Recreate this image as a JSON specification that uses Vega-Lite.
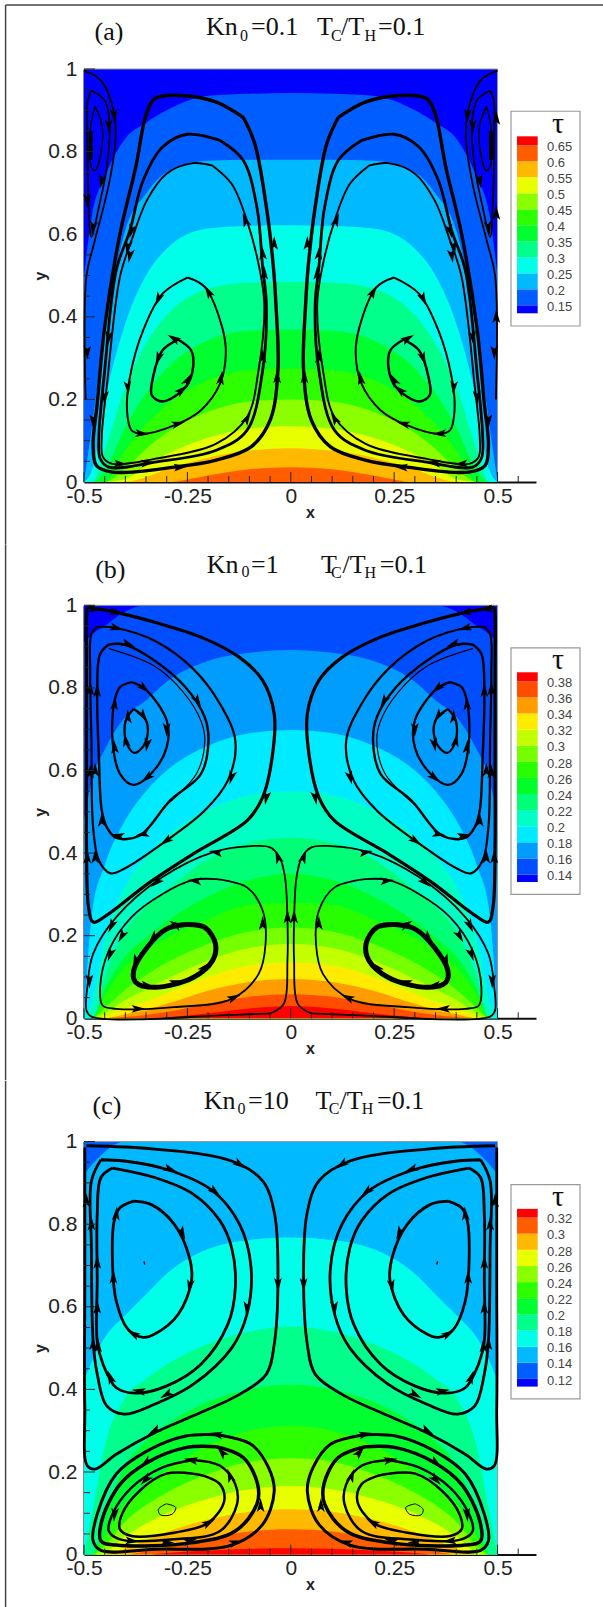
{"$schema":"https://vega.github.io/schema/vega-lite/v6.json","background":"white","padding":{"left":4,"top":4,"right":0,"bottom":0},"config":{"view":{"stroke":null},"axis":{"grid":false,"ticks":false,"labelFont":"Liberation Sans","labelFontSize":21,"labelColor":"#222","domainColor":"#111","domainWidth":2,"titleFont":"Liberation Sans","titleFontWeight":"bold","titleFontSize":16,"titleColor":"#222","labelOverlap":false,"labelFlush":false,"labelBound":false,"zindex":1,"labelExpr":"datum.value+''"}},"bounds":"flush","spacing":123.3,"resolve":{"scale":{"color":"independent","strokeWidth":"independent"}},
"datasets":{
"ticks":[{"x":-0.5,"y":0,"x2":-0.5,"y2":0.024},{"x":-0.45,"y":0,"x2":-0.45,"y2":0.0145},{"x":-0.4,"y":0,"x2":-0.4,"y2":0.0145},{"x":-0.35,"y":0,"x2":-0.35,"y2":0.0145},{"x":-0.3,"y":0,"x2":-0.3,"y2":0.0145},{"x":-0.25,"y":0,"x2":-0.25,"y2":0.024},{"x":-0.2,"y":0,"x2":-0.2,"y2":0.0145},{"x":-0.15,"y":0,"x2":-0.15,"y2":0.0145},{"x":-0.1,"y":0,"x2":-0.1,"y2":0.0145},{"x":-0.05,"y":0,"x2":-0.05,"y2":0.0145},{"x":0,"y":0,"x2":0,"y2":0.024},{"x":0.05,"y":0,"x2":0.05,"y2":0.0145},{"x":0.1,"y":0,"x2":0.1,"y2":0.0145},{"x":0.15,"y":0,"x2":0.15,"y2":0.0145},{"x":0.2,"y":0,"x2":0.2,"y2":0.0145},{"x":0.25,"y":0,"x2":0.25,"y2":0.024},{"x":0.3,"y":0,"x2":0.3,"y2":0.0145},{"x":0.35,"y":0,"x2":0.35,"y2":0.0145},{"x":0.4,"y":0,"x2":0.4,"y2":0.0145},{"x":0.45,"y":0,"x2":0.45,"y2":0.0145},{"x":0.5,"y":0,"x2":0.5,"y2":0.024},{"x":0.55,"y":0,"x2":0.55,"y2":0.0145},
{"x":-0.5,"y":0.05,"x2":-0.4855,"y2":0.05},{"x":-0.5,"y":0.1,"x2":-0.4855,"y2":0.1},{"x":-0.5,"y":0.15,"x2":-0.4855,"y2":0.15},{"x":-0.5,"y":0.2,"x2":-0.4734,"y2":0.2},{"x":-0.5,"y":0.25,"x2":-0.4855,"y2":0.25},{"x":-0.5,"y":0.3,"x2":-0.4855,"y2":0.3},{"x":-0.5,"y":0.35,"x2":-0.4855,"y2":0.35},{"x":-0.5,"y":0.4,"x2":-0.4734,"y2":0.4},{"x":-0.5,"y":0.45,"x2":-0.4855,"y2":0.45},{"x":-0.5,"y":0.5,"x2":-0.4855,"y2":0.5},{"x":-0.5,"y":0.55,"x2":-0.4855,"y2":0.55},{"x":-0.5,"y":0.6,"x2":-0.4734,"y2":0.6},{"x":-0.5,"y":0.65,"x2":-0.4855,"y2":0.65},{"x":-0.5,"y":0.7,"x2":-0.4855,"y2":0.7},{"x":-0.5,"y":0.75,"x2":-0.4855,"y2":0.75},{"x":-0.5,"y":0.8,"x2":-0.4734,"y2":0.8},{"x":-0.5,"y":0.85,"x2":-0.4855,"y2":0.85},{"x":-0.5,"y":0.9,"x2":-0.4855,"y2":0.9},{"x":-0.5,"y":0.95,"x2":-0.4855,"y2":0.95},{"x":-0.5,"y":1,"x2":-0.4734,"y2":1}],
"ca":[{"x":-0.5,"b0":1,"b1":0.5,"b2":0,"b3":0,"b4":0,"b5":0,"b6":0,"b7":0,"b8":0,"b9":0,"b10":0},{"x":-0.48,"b0":1,"b1":0.65,"b2":0.14,"b3":0.03,"b4":0,"b5":0,"b6":0,"b7":0,"b8":0,"b9":0,"b10":0},{"x":-0.45,"b0":1,"b1":0.738,"b2":0.36,"b3":0.194,"b4":0.077,"b5":0.026,"b6":0,"b7":0,"b8":0,"b9":0,"b10":0},{"x":-0.4,"b0":1,"b1":0.832,"b2":0.61,"b3":0.384,"b4":0.23,"b5":0.133,"b6":0.077,"b7":0.033,"b8":0.007,"b9":0,"b10":0},{"x":-0.35,"b0":1,"b1":0.87,"b2":0.698,"b3":0.5,"b4":0.335,"b5":0.215,"b6":0.139,"b7":0.08,"b8":0.04,"b9":0.012,"b10":0},{"x":-0.3,"b0":1,"b1":0.9,"b2":0.75,"b3":0.565,"b4":0.404,"b5":0.275,"b6":0.187,"b7":0.119,"b8":0.067,"b9":0.031,"b10":0},{"x":-0.2,"b0":1,"b1":0.935,"b2":0.778,"b3":0.614,"b4":0.468,"b5":0.343,"b6":0.247,"b7":0.17,"b8":0.107,"b9":0.059,"b10":0.016},{"x":-0.1,"b0":1,"b1":0.94,"b2":0.78,"b3":0.62,"b4":0.483,"b5":0.366,"b6":0.271,"b7":0.195,"b8":0.129,"b9":0.076,"b10":0.031},{"x":0,"b0":1,"b1":0.942,"b2":0.78,"b3":0.6215,"b4":0.484,"b5":0.369,"b6":0.275,"b7":0.2,"b8":0.135,"b9":0.082,"b10":0.036},{"x":0.1,"b0":1,"b1":0.94,"b2":0.78,"b3":0.62,"b4":0.483,"b5":0.366,"b6":0.271,"b7":0.195,"b8":0.129,"b9":0.076,"b10":0.031},{"x":0.2,"b0":1,"b1":0.935,"b2":0.778,"b3":0.614,"b4":0.468,"b5":0.343,"b6":0.247,"b7":0.17,"b8":0.107,"b9":0.059,"b10":0.016},{"x":0.3,"b0":1,"b1":0.9,"b2":0.75,"b3":0.565,"b4":0.404,"b5":0.275,"b6":0.187,"b7":0.119,"b8":0.067,"b9":0.031,"b10":0},{"x":0.35,"b0":1,"b1":0.87,"b2":0.698,"b3":0.5,"b4":0.335,"b5":0.215,"b6":0.139,"b7":0.08,"b8":0.04,"b9":0.012,"b10":0},{"x":0.4,"b0":1,"b1":0.832,"b2":0.61,"b3":0.384,"b4":0.23,"b5":0.133,"b6":0.077,"b7":0.033,"b8":0.007,"b9":0,"b10":0},{"x":0.45,"b0":1,"b1":0.738,"b2":0.36,"b3":0.194,"b4":0.077,"b5":0.026,"b6":0,"b7":0,"b8":0,"b9":0,"b10":0},{"x":0.48,"b0":1,"b1":0.65,"b2":0.14,"b3":0.03,"b4":0,"b5":0,"b6":0,"b7":0,"b8":0,"b9":0,"b10":0},{"x":0.5,"b0":1,"b1":0.5,"b2":0,"b3":0,"b4":0,"b5":0,"b6":0,"b7":0,"b8":0,"b9":0,"b10":0}],
"cb":[{"x":-0.5,"b0":1,"b1":0.91,"b2":0.48,"b3":0,"b4":0,"b5":0,"b6":0,"b7":0,"b8":0,"b9":0,"b10":0,"b11":0,"b12":0,"b13":0},{"x":-0.48,"b0":1,"b1":0.93,"b2":0.58,"b3":0.26,"b4":0.04,"b5":0,"b6":0,"b7":0,"b8":0,"b9":0,"b10":0,"b11":0,"b12":0,"b13":0},{"x":-0.45,"b0":1,"b1":0.95,"b2":0.65,"b3":0.37,"b4":0.19,"b5":0.1,"b6":0.07,"b7":0.055,"b8":0.025,"b9":0.012,"b10":0.004,"b11":0,"b12":0,"b13":0},{"x":-0.4,"b0":1,"b1":0.985,"b2":0.73,"b3":0.48,"b4":0.32,"b5":0.21,"b6":0.15,"b7":0.125,"b8":0.07,"b9":0.045,"b10":0.025,"b11":0.01,"b12":0.003,"b13":0},{"x":-0.35,"b0":1,"b1":1,"b2":0.77,"b3":0.55,"b4":0.39,"b5":0.27,"b6":0.195,"b7":0.165,"b8":0.105,"b9":0.07,"b10":0.04,"b11":0.02,"b12":0.008,"b13":0},{"x":-0.3,"b0":1,"b1":1,"b2":0.815,"b3":0.6,"b4":0.44,"b5":0.31,"b6":0.235,"b7":0.195,"b8":0.135,"b9":0.095,"b10":0.06,"b11":0.035,"b12":0.015,"b13":0.002},{"x":-0.2,"b0":1,"b1":1,"b2":0.865,"b3":0.66,"b4":0.505,"b5":0.385,"b6":0.295,"b7":0.24,"b8":0.18,"b9":0.14,"b10":0.1,"b11":0.067,"b12":0.035,"b13":0.012},{"x":-0.1,"b0":1,"b1":1,"b2":0.885,"b3":0.69,"b4":0.54,"b5":0.425,"b6":0.335,"b7":0.275,"b8":0.21,"b9":0.17,"b10":0.128,"b11":0.088,"b12":0.052,"b13":0.024},{"x":0,"b0":1,"b1":1,"b2":0.892,"b3":0.698,"b4":0.55,"b5":0.437,"b6":0.35,"b7":0.28,"b8":0.22,"b9":0.18,"b10":0.135,"b11":0.095,"b12":0.058,"b13":0.03},{"x":0.1,"b0":1,"b1":1,"b2":0.885,"b3":0.69,"b4":0.54,"b5":0.425,"b6":0.335,"b7":0.275,"b8":0.21,"b9":0.17,"b10":0.128,"b11":0.088,"b12":0.052,"b13":0.024},{"x":0.2,"b0":1,"b1":1,"b2":0.865,"b3":0.66,"b4":0.505,"b5":0.385,"b6":0.295,"b7":0.24,"b8":0.18,"b9":0.14,"b10":0.1,"b11":0.067,"b12":0.035,"b13":0.012},{"x":0.3,"b0":1,"b1":1,"b2":0.815,"b3":0.6,"b4":0.44,"b5":0.31,"b6":0.235,"b7":0.195,"b8":0.135,"b9":0.095,"b10":0.06,"b11":0.035,"b12":0.015,"b13":0.002},{"x":0.35,"b0":1,"b1":1,"b2":0.77,"b3":0.55,"b4":0.39,"b5":0.27,"b6":0.195,"b7":0.165,"b8":0.105,"b9":0.07,"b10":0.04,"b11":0.02,"b12":0.008,"b13":0},{"x":0.4,"b0":1,"b1":0.985,"b2":0.73,"b3":0.48,"b4":0.32,"b5":0.21,"b6":0.15,"b7":0.125,"b8":0.07,"b9":0.045,"b10":0.025,"b11":0.01,"b12":0.003,"b13":0},{"x":0.45,"b0":1,"b1":0.95,"b2":0.65,"b3":0.37,"b4":0.19,"b5":0.1,"b6":0.07,"b7":0.055,"b8":0.025,"b9":0.012,"b10":0.004,"b11":0,"b12":0,"b13":0},{"x":0.48,"b0":1,"b1":0.93,"b2":0.58,"b3":0.26,"b4":0.04,"b5":0,"b6":0,"b7":0,"b8":0,"b9":0,"b10":0,"b11":0,"b12":0,"b13":0},{"x":0.5,"b0":1,"b1":0.91,"b2":0.48,"b3":0,"b4":0,"b5":0,"b6":0,"b7":0,"b8":0,"b9":0,"b10":0,"b11":0,"b12":0,"b13":0}],
"cc":[{"x":-0.5,"b1":1,"b2":0.92,"b3":0.42,"b4":0,"b5":0,"b6":0,"b7":0,"b8":0,"b9":0,"b10":0,"b11":0},{"x":-0.48,"b1":1,"b2":0.945,"b3":0.47,"b4":0.1,"b5":0,"b6":0,"b7":0,"b8":0,"b9":0,"b10":0,"b11":0},{"x":-0.45,"b1":1,"b2":0.975,"b3":0.525,"b4":0.26,"b5":0.1,"b6":0.045,"b7":0.02,"b8":0.005,"b9":0,"b10":0,"b11":0},{"x":-0.4,"b1":1,"b2":1,"b3":0.58,"b4":0.38,"b5":0.215,"b6":0.125,"b7":0.08,"b8":0.045,"b9":0.015,"b10":0,"b11":0},{"x":-0.35,"b1":1,"b2":1,"b3":0.63,"b4":0.425,"b5":0.275,"b6":0.17,"b7":0.12,"b8":0.075,"b9":0.035,"b10":0.008,"b11":0},{"x":-0.3,"b1":1,"b2":1,"b3":0.68,"b4":0.46,"b5":0.315,"b6":0.205,"b7":0.15,"b8":0.1,"b9":0.055,"b10":0.018,"b11":0.004},{"x":-0.2,"b1":1,"b2":1,"b3":0.74,"b4":0.51,"b5":0.37,"b6":0.265,"b7":0.195,"b8":0.135,"b9":0.085,"b10":0.04,"b11":0.01},{"x":-0.1,"b1":1,"b2":1,"b3":0.762,"b4":0.54,"b5":0.4,"b6":0.3,"b7":0.225,"b8":0.158,"b9":0.104,"b10":0.056,"b11":0.014},{"x":0,"b1":1,"b2":1,"b3":0.768,"b4":0.552,"b5":0.412,"b6":0.312,"b7":0.233,"b8":0.166,"b9":0.11,"b10":0.0614,"b11":0.0154},{"x":0.1,"b1":1,"b2":1,"b3":0.762,"b4":0.54,"b5":0.4,"b6":0.3,"b7":0.225,"b8":0.158,"b9":0.104,"b10":0.056,"b11":0.014},{"x":0.2,"b1":1,"b2":1,"b3":0.74,"b4":0.51,"b5":0.37,"b6":0.265,"b7":0.195,"b8":0.135,"b9":0.085,"b10":0.04,"b11":0.01},{"x":0.3,"b1":1,"b2":1,"b3":0.68,"b4":0.46,"b5":0.315,"b6":0.205,"b7":0.15,"b8":0.1,"b9":0.055,"b10":0.018,"b11":0.004},{"x":0.35,"b1":1,"b2":1,"b3":0.63,"b4":0.425,"b5":0.275,"b6":0.17,"b7":0.12,"b8":0.075,"b9":0.035,"b10":0.008,"b11":0},{"x":0.4,"b1":1,"b2":1,"b3":0.58,"b4":0.38,"b5":0.215,"b6":0.125,"b7":0.08,"b8":0.045,"b9":0.015,"b10":0,"b11":0},{"x":0.45,"b1":1,"b2":0.975,"b3":0.525,"b4":0.26,"b5":0.1,"b6":0.045,"b7":0.02,"b8":0.005,"b9":0,"b10":0,"b11":0},{"x":0.48,"b1":1,"b2":0.945,"b3":0.47,"b4":0.1,"b5":0,"b6":0,"b7":0,"b8":0,"b9":0,"b10":0,"b11":0},{"x":0.5,"b1":1,"b2":0.92,"b3":0.42,"b4":0,"b5":0,"b6":0,"b7":0,"b8":0,"b9":0,"b10":0,"b11":0}],
"sa":[{"s":"a1","x":-0.115,"y":0.883},{"s":"a1","x":-0.18,"y":0.92},{"s":"a1","x":-0.264,"y":0.936},{"s":"a1","x":-0.329,"y":0.928},{"s":"a1","x":-0.349,"y":0.892},{"s":"a1","x":-0.375,"y":0.762},{"s":"a1","x":-0.413,"y":0.601},{"s":"a1","x":-0.45,"y":0.375},{"s":"a1","x":-0.468,"y":0.19},{"s":"a1","x":-0.478,"y":0.09},{"s":"a1","x":-0.47,"y":0.04},{"s":"a1","x":-0.431,"y":0.024},{"s":"a1","x":-0.282,"y":0.036},{"s":"a1","x":-0.18,"y":0.053},{"s":"a1","x":-0.096,"y":0.085},{"s":"a1","x":-0.05,"y":0.149},{"s":"a1","x":-0.031,"y":0.27},{"s":"a1","x":-0.036,"y":0.432},{"s":"a1","x":-0.042,"y":0.52},{"s":"a1","x":-0.059,"y":0.666},{"s":"a1","x":-0.087,"y":0.819},{"s":"a1","x":-0.115,"y":0.883},
{"s":"A1","x":0.115,"y":0.883},{"s":"A1","x":0.18,"y":0.92},{"s":"A1","x":0.264,"y":0.936},{"s":"A1","x":0.329,"y":0.928},{"s":"A1","x":0.349,"y":0.892},{"s":"A1","x":0.375,"y":0.762},{"s":"A1","x":0.413,"y":0.601},{"s":"A1","x":0.45,"y":0.375},{"s":"A1","x":0.468,"y":0.19},{"s":"A1","x":0.478,"y":0.09},{"s":"A1","x":0.47,"y":0.04},{"s":"A1","x":0.431,"y":0.024},{"s":"A1","x":0.282,"y":0.036},{"s":"A1","x":0.18,"y":0.053},{"s":"A1","x":0.096,"y":0.085},{"s":"A1","x":0.05,"y":0.149},{"s":"A1","x":0.031,"y":0.27},{"s":"A1","x":0.036,"y":0.432},{"s":"A1","x":0.042,"y":0.52},{"s":"A1","x":0.059,"y":0.666},{"s":"A1","x":0.087,"y":0.819},{"s":"A1","x":0.115,"y":0.883},
{"s":"a2","x":-0.171,"y":0.827},{"s":"a2","x":-0.25,"y":0.842},{"s":"a2","x":-0.31,"y":0.811},{"s":"a2","x":-0.357,"y":0.73},{"s":"a2","x":-0.389,"y":0.609},{"s":"a2","x":-0.422,"y":0.513},{"s":"a2","x":-0.45,"y":0.27},{"s":"a2","x":-0.464,"y":0.109},{"s":"a2","x":-0.461,"y":0.057},{"s":"a2","x":-0.44,"y":0.036},{"s":"a2","x":-0.329,"y":0.048},{"s":"a2","x":-0.18,"y":0.077},{"s":"a2","x":-0.106,"y":0.125},{"s":"a2","x":-0.068,"y":0.27},{"s":"a2","x":-0.059,"y":0.432},{"s":"a2","x":-0.068,"y":0.52},{"s":"a2","x":-0.082,"y":0.666},{"s":"a2","x":-0.115,"y":0.779},{"s":"a2","x":-0.171,"y":0.827},
{"s":"A2","x":0.171,"y":0.827},{"s":"A2","x":0.25,"y":0.842},{"s":"A2","x":0.31,"y":0.811},{"s":"A2","x":0.357,"y":0.73},{"s":"A2","x":0.389,"y":0.609},{"s":"A2","x":0.422,"y":0.513},{"s":"A2","x":0.45,"y":0.27},{"s":"A2","x":0.464,"y":0.109},{"s":"A2","x":0.461,"y":0.057},{"s":"A2","x":0.44,"y":0.036},{"s":"A2","x":0.329,"y":0.048},{"s":"A2","x":0.18,"y":0.077},{"s":"A2","x":0.106,"y":0.125},{"s":"A2","x":0.068,"y":0.27},{"s":"A2","x":0.059,"y":0.432},{"s":"A2","x":0.068,"y":0.52},{"s":"A2","x":0.082,"y":0.666},{"s":"A2","x":0.115,"y":0.779},{"s":"A2","x":0.171,"y":0.827},
{"s":"a3","x":-0.189,"y":0.766},{"s":"a3","x":-0.236,"y":0.772},{"s":"a3","x":-0.301,"y":0.746},{"s":"a3","x":-0.348,"y":0.682},{"s":"a3","x":-0.385,"y":0.585},{"s":"a3","x":-0.413,"y":0.497},{"s":"a3","x":-0.445,"y":0.23},{"s":"a3","x":-0.457,"y":0.109},{"s":"a3","x":-0.454,"y":0.06},{"s":"a3","x":-0.431,"y":0.044},{"s":"a3","x":-0.329,"y":0.056},{"s":"a3","x":-0.18,"y":0.093},{"s":"a3","x":-0.106,"y":0.157},{"s":"a3","x":-0.078,"y":0.27},{"s":"a3","x":-0.064,"y":0.432},{"s":"a3","x":-0.078,"y":0.528},{"s":"a3","x":-0.106,"y":0.633},{"s":"a3","x":-0.143,"y":0.722},{"s":"a3","x":-0.189,"y":0.766},
{"s":"A3","x":0.189,"y":0.766},{"s":"A3","x":0.236,"y":0.772},{"s":"A3","x":0.301,"y":0.746},{"s":"A3","x":0.348,"y":0.682},{"s":"A3","x":0.385,"y":0.585},{"s":"A3","x":0.413,"y":0.497},{"s":"A3","x":0.445,"y":0.23},{"s":"A3","x":0.457,"y":0.109},{"s":"A3","x":0.454,"y":0.06},{"s":"A3","x":0.431,"y":0.044},{"s":"A3","x":0.329,"y":0.056},{"s":"A3","x":0.18,"y":0.093},{"s":"A3","x":0.106,"y":0.157},{"s":"A3","x":0.078,"y":0.27},{"s":"A3","x":0.064,"y":0.432},{"s":"A3","x":0.078,"y":0.528},{"s":"A3","x":0.106,"y":0.633},{"s":"A3","x":0.143,"y":0.722},{"s":"A3","x":0.189,"y":0.766},
{"s":"a4","x":-0.25,"y":0.495},{"s":"a4","x":-0.208,"y":0.472},{"s":"a4","x":-0.166,"y":0.375},{"s":"a4","x":-0.157,"y":0.311},{"s":"a4","x":-0.171,"y":0.238},{"s":"a4","x":-0.217,"y":0.174},{"s":"a4","x":-0.282,"y":0.137},{"s":"a4","x":-0.357,"y":0.117},{"s":"a4","x":-0.385,"y":0.125},{"s":"a4","x":-0.396,"y":0.174},{"s":"a4","x":-0.389,"y":0.254},{"s":"a4","x":-0.357,"y":0.367},{"s":"a4","x":-0.31,"y":0.456},{"s":"a4","x":-0.25,"y":0.495},
{"s":"A4","x":0.25,"y":0.495},{"s":"A4","x":0.208,"y":0.472},{"s":"A4","x":0.166,"y":0.375},{"s":"A4","x":0.157,"y":0.311},{"s":"A4","x":0.171,"y":0.238},{"s":"A4","x":0.217,"y":0.174},{"s":"A4","x":0.282,"y":0.137},{"s":"A4","x":0.357,"y":0.117},{"s":"A4","x":0.385,"y":0.125},{"s":"A4","x":0.396,"y":0.174},{"s":"A4","x":0.389,"y":0.254},{"s":"A4","x":0.357,"y":0.367},{"s":"A4","x":0.31,"y":0.456},{"s":"A4","x":0.25,"y":0.495},
{"s":"a5","x":-0.273,"y":0.345},{"s":"a5","x":-0.241,"y":0.319},{"s":"a5","x":-0.236,"y":0.279},{"s":"a5","x":-0.254,"y":0.23},{"s":"a5","x":-0.31,"y":0.195},{"s":"a5","x":-0.336,"y":0.21},{"s":"a5","x":-0.333,"y":0.254},{"s":"a5","x":-0.31,"y":0.319},{"s":"a5","x":-0.273,"y":0.345},
{"s":"A5","x":0.273,"y":0.345},{"s":"A5","x":0.241,"y":0.319},{"s":"A5","x":0.236,"y":0.279},{"s":"A5","x":0.254,"y":0.23},{"s":"A5","x":0.31,"y":0.195},{"s":"A5","x":0.336,"y":0.21},{"s":"A5","x":0.333,"y":0.254},{"s":"A5","x":0.31,"y":0.319},{"s":"A5","x":0.273,"y":0.345},
{"s":"a6","x":-0.5,"y":0.996},{"s":"a6","x":-0.459,"y":0.972},{"s":"a6","x":-0.427,"y":0.892},{"s":"a6","x":-0.424,"y":0.827},{"s":"a6","x":-0.44,"y":0.72},{"s":"a6","x":-0.475,"y":0.58},{"s":"a6","x":-0.494,"y":0.5},{"s":"a6","x":-0.496,"y":0.2},
{"s":"A6","x":0.5,"y":0.996},{"s":"A6","x":0.459,"y":0.972},{"s":"A6","x":0.427,"y":0.892},{"s":"A6","x":0.424,"y":0.827},{"s":"A6","x":0.44,"y":0.72},{"s":"A6","x":0.475,"y":0.58},{"s":"A6","x":0.494,"y":0.5},{"s":"A6","x":0.496,"y":0.2},
{"s":"a7","x":-0.482,"y":0.948},{"s":"a7","x":-0.45,"y":0.924},{"s":"a7","x":-0.438,"y":0.867},{"s":"a7","x":-0.445,"y":0.762},{"s":"a7","x":-0.464,"y":0.666},{"s":"a7","x":-0.482,"y":0.593},{"s":"a7","x":-0.489,"y":0.682},{"s":"a7","x":-0.492,"y":0.843},{"s":"a7","x":-0.491,"y":0.924},{"s":"a7","x":-0.482,"y":0.948},
{"s":"A7","x":0.482,"y":0.948},{"s":"A7","x":0.45,"y":0.924},{"s":"A7","x":0.438,"y":0.867},{"s":"A7","x":0.445,"y":0.762},{"s":"A7","x":0.464,"y":0.666},{"s":"A7","x":0.482,"y":0.593},{"s":"A7","x":0.489,"y":0.682},{"s":"A7","x":0.492,"y":0.843},{"s":"A7","x":0.491,"y":0.924},{"s":"A7","x":0.482,"y":0.948},
{"s":"a8","x":-0.473,"y":0.909},{"s":"a8","x":-0.457,"y":0.867},{"s":"a8","x":-0.457,"y":0.811},{"s":"a8","x":-0.473,"y":0.754},{"s":"a8","x":-0.482,"y":0.762},{"s":"a8","x":-0.484,"y":0.859},{"s":"a8","x":-0.473,"y":0.909},
{"s":"A8","x":0.473,"y":0.909},{"s":"A8","x":0.457,"y":0.867},{"s":"A8","x":0.457,"y":0.811},{"s":"A8","x":0.473,"y":0.754},{"s":"A8","x":0.482,"y":0.762},{"s":"A8","x":0.484,"y":0.859},{"s":"A8","x":0.473,"y":0.909},
{"s":"a9","x":-0.484,"y":0.85},{"s":"a9","x":-0.484,"y":0.78},{"s":"A9","x":0.484,"y":0.85},{"s":"A9","x":0.484,"y":0.78}],
"ra":[{"x":-0.385,"y":0.609,"a":195},{"x":-0.478,"y":0.149,"a":180},{"x":-0.268,"y":0.036,"a":85},{"x":-0.04,"y":0.577,"a":0},{"x":-0.033,"y":0.254,"a":0},{"x":-0.394,"y":0.569,"a":190},{"x":-0.44,"y":0.351,"a":185},{"x":-0.45,"y":0.206,"a":183},{"x":-0.347,"y":0.046,"a":85},{"x":-0.068,"y":0.553,"a":355},{"x":-0.064,"y":0.505,"a":0},{"x":-0.068,"y":0.303,"a":0},{"x":-0.389,"y":0.549,"a":190},{"x":-0.413,"y":0.044,"a":95},{"x":-0.106,"y":0.153,"a":30},{"x":-0.11,"y":0.633,"a":340},{"x":-0.199,"y":0.46,"a":330},{"x":-0.32,"y":0.444,"a":205},{"x":-0.394,"y":0.23,"a":175},{"x":-0.361,"y":0.117,"a":95},{"x":-0.273,"y":0.141,"a":75},{"x":-0.169,"y":0.25,"a":10},{"x":-0.282,"y":0.347,"a":300},{"x":-0.32,"y":0.3,"a":200},{"x":-0.264,"y":0.222,"a":50},{"x":-0.25,"y":0.246,"a":30},{"x":-0.427,"y":0.888,"a":175},{"x":-0.44,"y":0.863,"a":180},{"x":-0.457,"y":0.73,"a":190},{"x":-0.478,"y":0.617,"a":190},{"x":-0.492,"y":0.682,"a":180},{"x":-0.492,"y":0.315,"a":180},
{"x":0.385,"y":0.609,"a":165},{"x":0.478,"y":0.149,"a":180},{"x":0.268,"y":0.036,"a":275},{"x":0.04,"y":0.577,"a":0},{"x":0.033,"y":0.254,"a":0},{"x":0.394,"y":0.569,"a":170},{"x":0.44,"y":0.351,"a":175},{"x":0.45,"y":0.206,"a":177},{"x":0.347,"y":0.046,"a":275},{"x":0.068,"y":0.553,"a":5},{"x":0.064,"y":0.505,"a":0},{"x":0.068,"y":0.303,"a":0},{"x":0.389,"y":0.549,"a":170},{"x":0.413,"y":0.044,"a":265},{"x":0.106,"y":0.153,"a":330},{"x":0.11,"y":0.633,"a":20},{"x":0.199,"y":0.46,"a":30},{"x":0.32,"y":0.444,"a":155},{"x":0.394,"y":0.23,"a":185},{"x":0.361,"y":0.117,"a":265},{"x":0.273,"y":0.141,"a":285},{"x":0.169,"y":0.25,"a":350},{"x":0.282,"y":0.347,"a":60},{"x":0.32,"y":0.3,"a":160},{"x":0.264,"y":0.222,"a":310},{"x":0.25,"y":0.246,"a":330},{"x":0.427,"y":0.888,"a":185},{"x":0.44,"y":0.863,"a":180},{"x":0.457,"y":0.73,"a":170},{"x":0.478,"y":0.617,"a":170},{"x":0.497,"y":0.88,"a":0},{"x":0.497,"y":0.65,"a":0},{"x":0.497,"y":0.4,"a":0},{"x":0.492,"y":0.315,"a":180}],
"sb":[{"s":"b1","x":-0.492,"y":0.995},{"s":"b1","x":-0.422,"y":0.983},{"s":"b1","x":-0.329,"y":0.959},{"s":"b1","x":-0.217,"y":0.923},{"s":"b1","x":-0.124,"y":0.874},{"s":"b1","x":-0.068,"y":0.818},{"s":"b1","x":-0.04,"y":0.737},{"s":"b1","x":-0.045,"y":0.632},{"s":"b1","x":-0.068,"y":0.535},{"s":"b1","x":-0.105,"y":0.479},{"s":"b1","x":-0.236,"y":0.398},{"s":"b1","x":-0.347,"y":0.325},{"s":"b1","x":-0.44,"y":0.253},{"s":"b1","x":-0.478,"y":0.233},{"s":"b1","x":-0.489,"y":0.269},{"s":"b1","x":-0.494,"y":0.422},{"s":"b1","x":-0.494,"y":0.592},{"s":"b1","x":-0.494,"y":0.834},{"s":"b1","x":-0.494,"y":0.971},{"s":"b1","x":-0.492,"y":0.995},
{"s":"B1","x":0.492,"y":0.995},{"s":"B1","x":0.422,"y":0.983},{"s":"B1","x":0.329,"y":0.959},{"s":"B1","x":0.217,"y":0.923},{"s":"B1","x":0.124,"y":0.874},{"s":"B1","x":0.068,"y":0.818},{"s":"B1","x":0.04,"y":0.737},{"s":"B1","x":0.045,"y":0.632},{"s":"B1","x":0.068,"y":0.535},{"s":"B1","x":0.105,"y":0.479},{"s":"B1","x":0.236,"y":0.398},{"s":"B1","x":0.347,"y":0.325},{"s":"B1","x":0.44,"y":0.253},{"s":"B1","x":0.478,"y":0.233},{"s":"B1","x":0.489,"y":0.269},{"s":"B1","x":0.494,"y":0.422},{"s":"B1","x":0.494,"y":0.592},{"s":"B1","x":0.494,"y":0.834},{"s":"B1","x":0.494,"y":0.971},{"s":"B1","x":0.492,"y":0.995},
{"s":"b2","x":-0.468,"y":0.948},{"s":"b2","x":-0.422,"y":0.945},{"s":"b2","x":-0.329,"y":0.914},{"s":"b2","x":-0.236,"y":0.846},{"s":"b2","x":-0.171,"y":0.761},{"s":"b2","x":-0.134,"y":0.672},{"s":"b2","x":-0.152,"y":0.576},{"s":"b2","x":-0.208,"y":0.503},{"s":"b2","x":-0.301,"y":0.43},{"s":"b2","x":-0.403,"y":0.362},{"s":"b2","x":-0.436,"y":0.351},{"s":"b2","x":-0.464,"y":0.382},{"s":"b2","x":-0.478,"y":0.463},{"s":"b2","x":-0.482,"y":0.672},{"s":"b2","x":-0.485,"y":0.834},{"s":"b2","x":-0.482,"y":0.931},{"s":"b2","x":-0.468,"y":0.948},
{"s":"B2","x":0.468,"y":0.948},{"s":"B2","x":0.422,"y":0.945},{"s":"B2","x":0.329,"y":0.914},{"s":"B2","x":0.236,"y":0.846},{"s":"B2","x":0.171,"y":0.761},{"s":"B2","x":0.134,"y":0.672},{"s":"B2","x":0.152,"y":0.576},{"s":"B2","x":0.208,"y":0.503},{"s":"B2","x":0.301,"y":0.43},{"s":"B2","x":0.403,"y":0.362},{"s":"B2","x":0.436,"y":0.351},{"s":"B2","x":0.464,"y":0.382},{"s":"B2","x":0.478,"y":0.463},{"s":"B2","x":0.482,"y":0.672},{"s":"B2","x":0.485,"y":0.834},{"s":"B2","x":0.482,"y":0.931},{"s":"B2","x":0.468,"y":0.948},
{"s":"b3","x":-0.44,"y":0.905},{"s":"b3","x":-0.403,"y":0.905},{"s":"b3","x":-0.329,"y":0.866},{"s":"b3","x":-0.254,"y":0.801},{"s":"b3","x":-0.208,"y":0.729},{"s":"b3","x":-0.199,"y":0.672},{"s":"b3","x":-0.217,"y":0.592},{"s":"b3","x":-0.292,"y":0.527},{"s":"b3","x":-0.366,"y":0.442},{"s":"b3","x":-0.422,"y":0.437},{"s":"b3","x":-0.445,"y":0.463},{"s":"b3","x":-0.457,"y":0.503},{"s":"b3","x":-0.464,"y":0.632},{"s":"b3","x":-0.468,"y":0.793},{"s":"b3","x":-0.461,"y":0.882},{"s":"b3","x":-0.44,"y":0.905},
{"s":"B3","x":0.44,"y":0.905},{"s":"B3","x":0.403,"y":0.905},{"s":"B3","x":0.329,"y":0.866},{"s":"B3","x":0.254,"y":0.801},{"s":"B3","x":0.208,"y":0.729},{"s":"B3","x":0.199,"y":0.672},{"s":"B3","x":0.217,"y":0.592},{"s":"B3","x":0.292,"y":0.527},{"s":"B3","x":0.366,"y":0.442},{"s":"B3","x":0.422,"y":0.437},{"s":"B3","x":0.445,"y":0.463},{"s":"B3","x":0.457,"y":0.503},{"s":"B3","x":0.464,"y":0.632},{"s":"B3","x":0.468,"y":0.793},{"s":"B3","x":0.461,"y":0.882},{"s":"B3","x":0.44,"y":0.905},
{"s":"b4","x":-0.385,"y":0.814},{"s":"b4","x":-0.352,"y":0.797},{"s":"b4","x":-0.3,"y":0.721},{"s":"b4","x":-0.3,"y":0.656},{"s":"b4","x":-0.338,"y":0.592},{"s":"b4","x":-0.38,"y":0.565},{"s":"b4","x":-0.413,"y":0.592},{"s":"b4","x":-0.431,"y":0.672},{"s":"b4","x":-0.426,"y":0.769},{"s":"b4","x":-0.413,"y":0.802},{"s":"b4","x":-0.385,"y":0.814},
{"s":"B4","x":0.385,"y":0.814},{"s":"B4","x":0.352,"y":0.797},{"s":"B4","x":0.3,"y":0.721},{"s":"B4","x":0.3,"y":0.656},{"s":"B4","x":0.338,"y":0.592},{"s":"B4","x":0.38,"y":0.565},{"s":"B4","x":0.413,"y":0.592},{"s":"B4","x":0.431,"y":0.672},{"s":"B4","x":0.426,"y":0.769},{"s":"B4","x":0.413,"y":0.802},{"s":"B4","x":0.385,"y":0.814},
{"s":"b5","x":-0.38,"y":0.749},{"s":"b5","x":-0.352,"y":0.725},{"s":"b5","x":-0.346,"y":0.688},{"s":"b5","x":-0.362,"y":0.652},{"s":"b5","x":-0.38,"y":0.643},{"s":"b5","x":-0.399,"y":0.672},{"s":"b5","x":-0.399,"y":0.721},{"s":"b5","x":-0.38,"y":0.749},
{"s":"B5","x":0.38,"y":0.749},{"s":"B5","x":0.352,"y":0.725},{"s":"B5","x":0.346,"y":0.688},{"s":"B5","x":0.362,"y":0.652},{"s":"B5","x":0.38,"y":0.643},{"s":"B5","x":0.399,"y":0.672},{"s":"B5","x":0.399,"y":0.721},{"s":"B5","x":0.38,"y":0.749},
{"s":"b6","x":-0.05,"y":0.012},{"s":"b6","x":-0.017,"y":0.035},{"s":"b6","x":-0.008,"y":0.14},{"s":"b6","x":-0.008,"y":0.237},{"s":"b6","x":-0.014,"y":0.342},{"s":"b6","x":-0.027,"y":0.39},{"s":"b6","x":-0.05,"y":0.414},{"s":"b6","x":-0.096,"y":0.417},{"s":"b6","x":-0.189,"y":0.402},{"s":"b6","x":-0.31,"y":0.342},{"s":"b6","x":-0.422,"y":0.245},{"s":"b6","x":-0.478,"y":0.156},{"s":"b6","x":-0.492,"y":0.075},{"s":"b6","x":-0.494,"y":0.019},{"s":"b6","x":-0.482,"y":0.004},{"s":"b6","x":-0.124,"y":0.009},{"s":"b6","x":-0.05,"y":0.012},
{"s":"B6","x":0.05,"y":0.012},{"s":"B6","x":0.017,"y":0.035},{"s":"B6","x":0.008,"y":0.14},{"s":"B6","x":0.008,"y":0.237},{"s":"B6","x":0.014,"y":0.342},{"s":"B6","x":0.027,"y":0.39},{"s":"B6","x":0.05,"y":0.414},{"s":"B6","x":0.096,"y":0.417},{"s":"B6","x":0.189,"y":0.402},{"s":"B6","x":0.31,"y":0.342},{"s":"B6","x":0.422,"y":0.245},{"s":"B6","x":0.478,"y":0.156},{"s":"B6","x":0.492,"y":0.075},{"s":"B6","x":0.494,"y":0.019},{"s":"B6","x":0.482,"y":0.004},{"s":"B6","x":0.124,"y":0.009},{"s":"B6","x":0.05,"y":0.012},
{"s":"b7","x":-0.18,"y":0.337},{"s":"b7","x":-0.236,"y":0.335},{"s":"b7","x":-0.31,"y":0.301},{"s":"b7","x":-0.385,"y":0.245},{"s":"b7","x":-0.44,"y":0.164},{"s":"b7","x":-0.461,"y":0.075},{"s":"b7","x":-0.455,"y":0.031},{"s":"b7","x":-0.422,"y":0.023},{"s":"b7","x":-0.282,"y":0.027},{"s":"b7","x":-0.143,"y":0.047},{"s":"b7","x":-0.078,"y":0.107},{"s":"b7","x":-0.061,"y":0.18},{"s":"b7","x":-0.068,"y":0.261},{"s":"b7","x":-0.106,"y":0.317},{"s":"b7","x":-0.18,"y":0.337},
{"s":"B7","x":0.18,"y":0.337},{"s":"B7","x":0.236,"y":0.335},{"s":"B7","x":0.31,"y":0.301},{"s":"B7","x":0.385,"y":0.245},{"s":"B7","x":0.44,"y":0.164},{"s":"B7","x":0.461,"y":0.075},{"s":"B7","x":0.455,"y":0.031},{"s":"B7","x":0.422,"y":0.023},{"s":"B7","x":0.282,"y":0.027},{"s":"B7","x":0.143,"y":0.047},{"s":"B7","x":0.078,"y":0.107},{"s":"B7","x":0.061,"y":0.18},{"s":"B7","x":0.068,"y":0.261},{"s":"B7","x":0.106,"y":0.317},{"s":"B7","x":0.18,"y":0.337},
{"s":"b8","x":-0.254,"y":0.227},{"s":"b8","x":-0.208,"y":0.22},{"s":"b8","x":-0.182,"y":0.18},{"s":"b8","x":-0.189,"y":0.14},{"s":"b8","x":-0.236,"y":0.099},{"s":"b8","x":-0.329,"y":0.075},{"s":"b8","x":-0.375,"y":0.087},{"s":"b8","x":-0.38,"y":0.115},{"s":"b8","x":-0.347,"y":0.172},{"s":"b8","x":-0.301,"y":0.216},{"s":"b8","x":-0.254,"y":0.227},
{"s":"B8","x":0.254,"y":0.227},{"s":"B8","x":0.208,"y":0.22},{"s":"B8","x":0.182,"y":0.18},{"s":"B8","x":0.189,"y":0.14},{"s":"B8","x":0.236,"y":0.099},{"s":"B8","x":0.329,"y":0.075},{"s":"B8","x":0.375,"y":0.087},{"s":"B8","x":0.38,"y":0.115},{"s":"B8","x":0.347,"y":0.172},{"s":"B8","x":0.301,"y":0.216},{"s":"B8","x":0.254,"y":0.227},
{"s":"b9","x":-0.44,"y":0.895},{"s":"b9","x":-0.33,"y":0.853},{"s":"b9","x":-0.26,"y":0.79},{"s":"b9","x":-0.217,"y":0.72},{"s":"b9","x":-0.208,"y":0.672},{"s":"b9","x":-0.228,"y":0.592},{"s":"b9","x":-0.3,"y":0.517},
{"s":"B9","x":0.44,"y":0.895},{"s":"B9","x":0.33,"y":0.853},{"s":"B9","x":0.26,"y":0.79},{"s":"B9","x":0.217,"y":0.72},{"s":"B9","x":0.208,"y":0.672},{"s":"B9","x":0.228,"y":0.592},{"s":"B9","x":0.3,"y":0.517}],
"rb":[{"x":-0.422,"y":0.983,"a":100},{"x":-0.059,"y":0.535,"a":190},{"x":-0.473,"y":0.991,"a":95},{"x":-0.422,"y":0.945,"a":105},{"x":-0.143,"y":0.584,"a":195},{"x":-0.301,"y":0.43,"a":235},{"x":-0.473,"y":0.39,"a":0},{"x":-0.473,"y":0.6,"a":0},{"x":-0.394,"y":0.906,"a":110},{"x":-0.226,"y":0.769,"a":150},{"x":-0.357,"y":0.446,"a":260},{"x":-0.417,"y":0.442,"a":280},{"x":-0.457,"y":0.479,"a":0},{"x":-0.468,"y":0.793,"a":0},{"x":-0.355,"y":0.8,"a":130},{"x":-0.3,"y":0.7,"a":180},{"x":-0.347,"y":0.583,"a":230},{"x":-0.426,"y":0.656,"a":355},{"x":-0.426,"y":0.761,"a":5},{"x":-0.357,"y":0.733,"a":145},{"x":-0.347,"y":0.664,"a":190},{"x":-0.394,"y":0.729,"a":0},{"x":-0.399,"y":0.672,"a":350},{"x":-0.485,"y":0.797,"a":0},{"x":-0.485,"y":0.596,"a":0},{"x":-0.492,"y":0.39,"a":0},{"x":-0.008,"y":0.245,"a":0},{"x":-0.031,"y":0.39,"a":340},{"x":-0.18,"y":0.402,"a":280},{"x":-0.324,"y":0.33,"a":230},{"x":-0.433,"y":0.225,"a":205},{"x":-0.487,"y":0.091,"a":180},{"x":-0.068,"y":0.229,"a":0},{"x":-0.231,"y":0.333,"a":275},{"x":-0.408,"y":0.2,"a":210},{"x":-0.436,"y":0.156,"a":200},{"x":-0.37,"y":0.023,"a":90},{"x":-0.138,"y":0.05,"a":65},{"x":-0.278,"y":0.227,"a":300},{"x":-0.332,"y":0.196,"a":220},{"x":-0.375,"y":0.14,"a":200},{"x":-0.347,"y":0.079,"a":100},{"x":-0.278,"y":0.087,"a":75},{"x":-0.208,"y":0.123,"a":45},
{"x":0.422,"y":0.983,"a":260},{"x":0.059,"y":0.535,"a":170},{"x":0.473,"y":0.991,"a":265},{"x":0.422,"y":0.945,"a":255},{"x":0.143,"y":0.584,"a":165},{"x":0.301,"y":0.43,"a":125},{"x":0.473,"y":0.39,"a":0},{"x":0.473,"y":0.6,"a":0},{"x":0.394,"y":0.906,"a":250},{"x":0.226,"y":0.769,"a":210},{"x":0.357,"y":0.446,"a":100},{"x":0.417,"y":0.442,"a":80},{"x":0.457,"y":0.479,"a":0},{"x":0.468,"y":0.793,"a":0},{"x":0.355,"y":0.8,"a":230},{"x":0.3,"y":0.7,"a":180},{"x":0.347,"y":0.583,"a":130},{"x":0.426,"y":0.656,"a":5},{"x":0.426,"y":0.761,"a":355},{"x":0.357,"y":0.733,"a":215},{"x":0.347,"y":0.664,"a":170},{"x":0.394,"y":0.729,"a":0},{"x":0.399,"y":0.672,"a":10},{"x":0.485,"y":0.797,"a":0},{"x":0.485,"y":0.596,"a":0},{"x":0.492,"y":0.39,"a":0},{"x":0.008,"y":0.245,"a":0},{"x":0.031,"y":0.39,"a":20},{"x":0.18,"y":0.402,"a":80},{"x":0.324,"y":0.33,"a":130},{"x":0.433,"y":0.225,"a":155},{"x":0.487,"y":0.091,"a":180},{"x":0.068,"y":0.229,"a":0},{"x":0.231,"y":0.333,"a":85},{"x":0.408,"y":0.2,"a":150},{"x":0.436,"y":0.156,"a":160},{"x":0.37,"y":0.023,"a":270},{"x":0.138,"y":0.05,"a":295},{"x":0.278,"y":0.227,"a":60},{"x":0.332,"y":0.196,"a":140},{"x":0.375,"y":0.14,"a":160},{"x":0.347,"y":0.079,"a":260},{"x":0.278,"y":0.087,"a":285},{"x":0.208,"y":0.123,"a":315}],
"sc":[{"s":"c1","x":-0.494,"y":0.99},{"s":"c1","x":-0.329,"y":0.982},{"s":"c1","x":-0.143,"y":0.953},{"s":"c1","x":-0.068,"y":0.905},{"s":"c1","x":-0.039,"y":0.824},{"s":"c1","x":-0.031,"y":0.663},{"s":"c1","x":-0.04,"y":0.509},{"s":"c1","x":-0.059,"y":0.437},{"s":"c1","x":-0.124,"y":0.388},{"s":"c1","x":-0.236,"y":0.336},{"s":"c1","x":-0.329,"y":0.295},{"s":"c1","x":-0.422,"y":0.243},{"s":"c1","x":-0.473,"y":0.207},{"s":"c1","x":-0.492,"y":0.215},{"s":"c1","x":-0.498,"y":0.356},{"s":"c1","x":-0.498,"y":0.663},{"s":"c1","x":-0.498,"y":0.986},
{"s":"C1","x":0.494,"y":0.99},{"s":"C1","x":0.329,"y":0.982},{"s":"C1","x":0.143,"y":0.953},{"s":"C1","x":0.068,"y":0.905},{"s":"C1","x":0.039,"y":0.824},{"s":"C1","x":0.031,"y":0.663},{"s":"C1","x":0.04,"y":0.509},{"s":"C1","x":0.059,"y":0.437},{"s":"C1","x":0.124,"y":0.388},{"s":"C1","x":0.236,"y":0.336},{"s":"C1","x":0.329,"y":0.295},{"s":"C1","x":0.422,"y":0.243},{"s":"C1","x":0.473,"y":0.207},{"s":"C1","x":0.492,"y":0.215},{"s":"C1","x":0.498,"y":0.356},{"s":"C1","x":0.498,"y":0.663},{"s":"C1","x":0.498,"y":0.986},
{"s":"c2","x":-0.459,"y":0.956},{"s":"c2","x":-0.403,"y":0.953},{"s":"c2","x":-0.301,"y":0.933},{"s":"c2","x":-0.189,"y":0.881},{"s":"c2","x":-0.124,"y":0.8},{"s":"c2","x":-0.096,"y":0.695},{"s":"c2","x":-0.106,"y":0.582},{"s":"c2","x":-0.143,"y":0.5},{"s":"c2","x":-0.236,"y":0.412},{"s":"c2","x":-0.329,"y":0.364},{"s":"c2","x":-0.403,"y":0.34},{"s":"c2","x":-0.445,"y":0.36},{"s":"c2","x":-0.468,"y":0.437},{"s":"c2","x":-0.478,"y":0.517},{"s":"c2","x":-0.482,"y":0.743},{"s":"c2","x":-0.482,"y":0.905},{"s":"c2","x":-0.459,"y":0.956},
{"s":"C2","x":0.459,"y":0.956},{"s":"C2","x":0.403,"y":0.953},{"s":"C2","x":0.301,"y":0.933},{"s":"C2","x":0.189,"y":0.881},{"s":"C2","x":0.124,"y":0.8},{"s":"C2","x":0.096,"y":0.695},{"s":"C2","x":0.106,"y":0.582},{"s":"C2","x":0.143,"y":0.5},{"s":"C2","x":0.236,"y":0.412},{"s":"C2","x":0.329,"y":0.364},{"s":"C2","x":0.403,"y":0.34},{"s":"C2","x":0.445,"y":0.36},{"s":"C2","x":0.468,"y":0.437},{"s":"C2","x":0.478,"y":0.517},{"s":"C2","x":0.482,"y":0.743},{"s":"C2","x":0.482,"y":0.905},{"s":"C2","x":0.459,"y":0.956},
{"s":"c3","x":-0.431,"y":0.936},{"s":"c3","x":-0.329,"y":0.913},{"s":"c3","x":-0.236,"y":0.873},{"s":"c3","x":-0.171,"y":0.808},{"s":"c3","x":-0.143,"y":0.743},{"s":"c3","x":-0.134,"y":0.647},{"s":"c3","x":-0.152,"y":0.558},{"s":"c3","x":-0.217,"y":0.461},{"s":"c3","x":-0.301,"y":0.408},{"s":"c3","x":-0.375,"y":0.391},{"s":"c3","x":-0.422,"y":0.404},{"s":"c3","x":-0.454,"y":0.461},{"s":"c3","x":-0.468,"y":0.517},{"s":"c3","x":-0.468,"y":0.663},{"s":"c3","x":-0.468,"y":0.824},{"s":"c3","x":-0.459,"y":0.913},{"s":"c3","x":-0.431,"y":0.936},
{"s":"C3","x":0.431,"y":0.936},{"s":"C3","x":0.329,"y":0.913},{"s":"C3","x":0.236,"y":0.873},{"s":"C3","x":0.171,"y":0.808},{"s":"C3","x":0.143,"y":0.743},{"s":"C3","x":0.134,"y":0.647},{"s":"C3","x":0.152,"y":0.558},{"s":"C3","x":0.217,"y":0.461},{"s":"C3","x":0.301,"y":0.408},{"s":"C3","x":0.375,"y":0.391},{"s":"C3","x":0.422,"y":0.404},{"s":"C3","x":0.454,"y":0.461},{"s":"C3","x":0.468,"y":0.517},{"s":"C3","x":0.468,"y":0.663},{"s":"C3","x":0.468,"y":0.824},{"s":"C3","x":0.459,"y":0.913},{"s":"C3","x":0.431,"y":0.936},
{"s":"c4","x":-0.38,"y":0.856},{"s":"c4","x":-0.338,"y":0.848},{"s":"c4","x":-0.282,"y":0.8},{"s":"c4","x":-0.245,"y":0.719},{"s":"c4","x":-0.24,"y":0.663},{"s":"c4","x":-0.272,"y":0.582},{"s":"c4","x":-0.329,"y":0.534},{"s":"c4","x":-0.357,"y":0.526},{"s":"c4","x":-0.394,"y":0.546},{"s":"c4","x":-0.422,"y":0.614},{"s":"c4","x":-0.431,"y":0.703},{"s":"c4","x":-0.427,"y":0.808},{"s":"c4","x":-0.413,"y":0.84},{"s":"c4","x":-0.38,"y":0.856},
{"s":"C4","x":0.38,"y":0.856},{"s":"C4","x":0.338,"y":0.848},{"s":"C4","x":0.282,"y":0.8},{"s":"C4","x":0.245,"y":0.719},{"s":"C4","x":0.24,"y":0.663},{"s":"C4","x":0.272,"y":0.582},{"s":"C4","x":0.329,"y":0.534},{"s":"C4","x":0.357,"y":0.526},{"s":"C4","x":0.394,"y":0.546},{"s":"C4","x":0.422,"y":0.614},{"s":"C4","x":0.431,"y":0.703},{"s":"C4","x":0.427,"y":0.808},{"s":"C4","x":0.413,"y":0.84},{"s":"C4","x":0.38,"y":0.856},
{"s":"c5","x":-0.18,"y":0.29},{"s":"c5","x":-0.254,"y":0.287},{"s":"c5","x":-0.347,"y":0.251},{"s":"c5","x":-0.422,"y":0.195},{"s":"c5","x":-0.468,"y":0.098},{"s":"c5","x":-0.478,"y":0.033},{"s":"c5","x":-0.459,"y":0.01},{"s":"c5","x":-0.329,"y":0.013},{"s":"c5","x":-0.143,"y":0.023},{"s":"c5","x":-0.068,"y":0.073},{"s":"c5","x":-0.04,"y":0.154},{"s":"c5","x":-0.054,"y":0.211},{"s":"c5","x":-0.096,"y":0.267},{"s":"c5","x":-0.18,"y":0.29},
{"s":"C5","x":0.18,"y":0.29},{"s":"C5","x":0.254,"y":0.287},{"s":"C5","x":0.347,"y":0.251},{"s":"C5","x":0.422,"y":0.195},{"s":"C5","x":0.468,"y":0.098},{"s":"C5","x":0.478,"y":0.033},{"s":"C5","x":0.459,"y":0.01},{"s":"C5","x":0.329,"y":0.013},{"s":"C5","x":0.143,"y":0.023},{"s":"C5","x":0.068,"y":0.073},{"s":"C5","x":0.04,"y":0.154},{"s":"C5","x":0.054,"y":0.211},{"s":"C5","x":0.096,"y":0.267},{"s":"C5","x":0.18,"y":0.29},
{"s":"c6","x":-0.18,"y":0.261},{"s":"c6","x":-0.254,"y":0.259},{"s":"c6","x":-0.347,"y":0.223},{"s":"c6","x":-0.413,"y":0.17},{"s":"c6","x":-0.457,"y":0.082},{"s":"c6","x":-0.459,"y":0.033},{"s":"c6","x":-0.422,"y":0.023},{"s":"c6","x":-0.236,"y":0.029},{"s":"c6","x":-0.134,"y":0.057},{"s":"c6","x":-0.082,"y":0.122},{"s":"c6","x":-0.08,"y":0.17},{"s":"c6","x":-0.115,"y":0.235},{"s":"c6","x":-0.18,"y":0.261},
{"s":"C6","x":0.18,"y":0.261},{"s":"C6","x":0.254,"y":0.259},{"s":"C6","x":0.347,"y":0.223},{"s":"C6","x":0.413,"y":0.17},{"s":"C6","x":0.457,"y":0.082},{"s":"C6","x":0.459,"y":0.033},{"s":"C6","x":0.422,"y":0.023},{"s":"C6","x":0.236,"y":0.029},{"s":"C6","x":0.134,"y":0.057},{"s":"C6","x":0.082,"y":0.122},{"s":"C6","x":0.08,"y":0.17},{"s":"C6","x":0.115,"y":0.235},{"s":"C6","x":0.18,"y":0.261},
{"s":"c7","x":-0.236,"y":0.229},{"s":"c7","x":-0.31,"y":0.211},{"s":"c7","x":-0.385,"y":0.162},{"s":"c7","x":-0.431,"y":0.098},{"s":"c7","x":-0.44,"y":0.057},{"s":"c7","x":-0.413,"y":0.037},{"s":"c7","x":-0.282,"y":0.037},{"s":"c7","x":-0.171,"y":0.057},{"s":"c7","x":-0.13,"y":0.122},{"s":"c7","x":-0.134,"y":0.17},{"s":"c7","x":-0.171,"y":0.215},{"s":"c7","x":-0.236,"y":0.229},
{"s":"C7","x":0.236,"y":0.229},{"s":"C7","x":0.31,"y":0.211},{"s":"C7","x":0.385,"y":0.162},{"s":"C7","x":0.431,"y":0.098},{"s":"C7","x":0.44,"y":0.057},{"s":"C7","x":0.413,"y":0.037},{"s":"C7","x":0.282,"y":0.037},{"s":"C7","x":0.171,"y":0.057},{"s":"C7","x":0.13,"y":0.122},{"s":"C7","x":0.134,"y":0.17},{"s":"C7","x":0.171,"y":0.215},{"s":"C7","x":0.236,"y":0.229},
{"s":"c8","x":-0.236,"y":0.196},{"s":"c8","x":-0.301,"y":0.196},{"s":"c8","x":-0.366,"y":0.154},{"s":"c8","x":-0.408,"y":0.098},{"s":"c8","x":-0.413,"y":0.061},{"s":"c8","x":-0.385,"y":0.045},{"s":"c8","x":-0.282,"y":0.053},{"s":"c8","x":-0.199,"y":0.077},{"s":"c8","x":-0.161,"y":0.13},{"s":"c8","x":-0.171,"y":0.17},{"s":"c8","x":-0.208,"y":0.19},{"s":"c8","x":-0.236,"y":0.196},
{"s":"C8","x":0.236,"y":0.196},{"s":"C8","x":0.301,"y":0.196},{"s":"C8","x":0.366,"y":0.154},{"s":"C8","x":0.408,"y":0.098},{"s":"C8","x":0.413,"y":0.061},{"s":"C8","x":0.385,"y":0.045},{"s":"C8","x":0.282,"y":0.053},{"s":"C8","x":0.199,"y":0.077},{"s":"C8","x":0.161,"y":0.13},{"s":"C8","x":0.171,"y":0.17},{"s":"C8","x":0.208,"y":0.19},{"s":"C8","x":0.236,"y":0.196},
{"s":"c9","x":-0.301,"y":0.123},{"s":"c9","x":-0.278,"y":0.114},{"s":"c9","x":-0.287,"y":0.098},{"s":"c9","x":-0.315,"y":0.096},{"s":"c9","x":-0.32,"y":0.11},{"s":"c9","x":-0.301,"y":0.123},
{"s":"C9","x":0.301,"y":0.123},{"s":"C9","x":0.278,"y":0.114},{"s":"C9","x":0.287,"y":0.098},{"s":"C9","x":0.315,"y":0.096},{"s":"C9","x":0.32,"y":0.11},{"s":"C9","x":0.301,"y":0.123},
{"s":"c10","x":-0.355,"y":0.71},{"s":"c10","x":-0.353,"y":0.702},{"s":"C10","x":0.355,"y":0.71},{"s":"C10","x":0.353,"y":0.702}],
"rc":[{"x":-0.031,"y":0.655,"a":180},{"x":-0.124,"y":0.945,"a":125},{"x":-0.106,"y":0.598,"a":185},{"x":-0.292,"y":0.933,"a":110},{"x":-0.184,"y":0.879,"a":130},{"x":-0.263,"y":0.78,"a":155},{"x":-0.244,"y":0.651,"a":190},{"x":-0.38,"y":0.534,"a":300},{"x":-0.429,"y":0.671,"a":0},{"x":-0.422,"y":0.824,"a":5},{"x":-0.468,"y":0.707,"a":0},{"x":-0.482,"y":0.8,"a":0},{"x":-0.468,"y":0.598,"a":0},{"x":-0.494,"y":0.856,"a":0},{"x":-0.436,"y":0.428,"a":340},{"x":-0.366,"y":0.396,"a":280},{"x":-0.3,"y":0.388,"a":240},{"x":-0.329,"y":0.3,"a":240},{"x":-0.466,"y":0.505,"a":0},{"x":-0.478,"y":0.51,"a":0},{"x":-0.18,"y":0.291,"a":280},{"x":-0.24,"y":0.229,"a":280},{"x":-0.35,"y":0.223,"a":230},{"x":-0.35,"y":0.182,"a":225},{"x":-0.426,"y":0.098,"a":185},{"x":-0.385,"y":0.033,"a":95},{"x":-0.301,"y":0.029,"a":90},{"x":-0.245,"y":0.033,"a":75},{"x":-0.199,"y":0.077,"a":60},{"x":-0.134,"y":0.029,"a":75},{"x":-0.147,"y":0.19,"a":340},{"x":-0.166,"y":0.247,"a":320},{"x":-0.073,"y":0.118,"a":0},
{"x":0.031,"y":0.655,"a":180},{"x":0.124,"y":0.945,"a":235},{"x":0.106,"y":0.598,"a":175},{"x":0.292,"y":0.933,"a":250},{"x":0.184,"y":0.879,"a":230},{"x":0.263,"y":0.78,"a":205},{"x":0.244,"y":0.651,"a":170},{"x":0.38,"y":0.534,"a":60},{"x":0.429,"y":0.671,"a":0},{"x":0.422,"y":0.824,"a":355},{"x":0.468,"y":0.707,"a":0},{"x":0.482,"y":0.8,"a":0},{"x":0.468,"y":0.598,"a":0},{"x":0.494,"y":0.856,"a":0},{"x":0.436,"y":0.428,"a":20},{"x":0.366,"y":0.396,"a":80},{"x":0.3,"y":0.388,"a":120},{"x":0.329,"y":0.3,"a":120},{"x":0.466,"y":0.505,"a":0},{"x":0.478,"y":0.51,"a":0},{"x":0.18,"y":0.291,"a":80},{"x":0.24,"y":0.229,"a":80},{"x":0.35,"y":0.223,"a":130},{"x":0.35,"y":0.182,"a":135},{"x":0.426,"y":0.098,"a":175},{"x":0.385,"y":0.033,"a":265},{"x":0.301,"y":0.029,"a":270},{"x":0.245,"y":0.033,"a":285},{"x":0.199,"y":0.077,"a":300},{"x":0.134,"y":0.029,"a":285},{"x":0.147,"y":0.19,"a":20},{"x":0.166,"y":0.247,"a":40},{"x":0.073,"y":0.118,"a":0}],
"la":[{"band":"b0","lo":0.125,"hi":0.15},{"band":"b1","lo":0.15,"hi":0.2},{"band":"b2","lo":0.2,"hi":0.25},{"band":"b3","lo":0.25,"hi":0.3},{"band":"b4","lo":0.3,"hi":0.35},{"band":"b5","lo":0.35,"hi":0.4},{"band":"b6","lo":0.4,"hi":0.45},{"band":"b7","lo":0.45,"hi":0.5},{"band":"b8","lo":0.5,"hi":0.55},{"band":"b9","lo":0.55,"hi":0.6},{"band":"b10","lo":0.6,"hi":0.65},{"band":"b11","lo":0.65,"hi":0.678}],
"lb":[{"band":"b0","lo":0.1307,"hi":0.14},{"band":"b1","lo":0.14,"hi":0.16},{"band":"b2","lo":0.16,"hi":0.18},{"band":"b3","lo":0.18,"hi":0.2},{"band":"b4","lo":0.2,"hi":0.22},{"band":"b5","lo":0.22,"hi":0.24},{"band":"b6","lo":0.24,"hi":0.26},{"band":"b7","lo":0.26,"hi":0.28},{"band":"b8","lo":0.28,"hi":0.3},{"band":"b9","lo":0.3,"hi":0.32},{"band":"b10","lo":0.32,"hi":0.34},{"band":"b11","lo":0.34,"hi":0.36},{"band":"b12","lo":0.36,"hi":0.38},{"band":"b13","lo":0.38,"hi":0.3912}],
"lc":[{"band":"b0","lo":0.1104,"hi":0.12},{"band":"b1","lo":0.12,"hi":0.14},{"band":"b2","lo":0.14,"hi":0.16},{"band":"b3","lo":0.16,"hi":0.18},{"band":"b4","lo":0.18,"hi":0.2},{"band":"b5","lo":0.2,"hi":0.22},{"band":"b6","lo":0.22,"hi":0.24},{"band":"b7","lo":0.24,"hi":0.26},{"band":"b8","lo":0.26,"hi":0.28},{"band":"b9","lo":0.28,"hi":0.3},{"band":"b10","lo":0.3,"hi":0.32},{"band":"b11","lo":0.32,"hi":0.3308}]
},
"vconcat":[
{"width":452,"height":413,"resolve":{"scale":{"x":"independent","y":"independent"}},"layer":[
{"encoding":{"x":{"field":"x","type":"quantitative","scale":{"domain":[-0.5,0.593],"nice":false,"zero":false},"axis":{"values":[-0.5,-0.25,0,0.25,0.5],"title":"x","labelPadding":3,"titlePadding":-2}},"y":{"field":"y","type":"quantitative","scale":{"domain":[0,1],"nice":false,"zero":false},"axis":{"values":[0,0.2,0.4,0.6,0.8,1],"title":"y","labelPadding":7,"titlePadding":-1}}},"layer":[
{"data":{"name":"ca"},"transform":[{"fold":["b0","b1","b2","b3","b4","b5","b6","b7","b8","b9","b10"],"as":["k","y"]}],"mark":{"type":"area","interpolate":"monotone","clip":false},"encoding":{"y2":{"datum":0},"color":{"field":"k","type":"nominal","scale":{"domain":["b0","b1","b2","b3","b4","b5","b6","b7","b8","b9","b10","b11"],"range":["#0000ff","#005dff","#00b9ff","#00ffe8","#00ff8b","#00ff2e","#2eff00","#8bff00","#e8ff00","#ffb900","#ff5d00","#ff0000"]},"legend":null}}},
{"data":{"values":[{"x":-0.5,"y":1,"x2":0.5,"y2":1},{"x":0.5,"y":1,"x2":0.5,"y2":0}]},"mark":{"type":"rule","color":"#999","strokeWidth":1},"encoding":{"x2":{"field":"x2"},"y2":{"field":"y2"}}},
{"data":{"name":"sa"},"mark":{"type":"line","interpolate":"catmull-rom","color":"#000","order":null},"encoding":{"strokeWidth":{"field":"s","type":"nominal","scale":{"type":"ordinal","domain":["a1","A1","a2","A2","a3","A3","a4","A4","a5","A5","a6","A6","a7","A7","a8","A8","a9","A9"],"range":[3.4,3.4,2.8,2.8,1.9,1.9,2,2,2.5,2.5,1.8,1.8,1.8,1.8,1.5,1.5,4,4]},"legend":null}}},
{"data":{"name":"ra"},"mark":{"type":"point","shape":"M0,-1L0.5,0.8L0,0.4L-0.5,0.8Z","filled":true,"color":"#000","opacity":1,"size":240},"encoding":{"angle":{"field":"a","type":"quantitative","scale":null}}},
{"data":{"name":"ticks"},"mark":{"type":"rule","color":"#222","strokeWidth":1},"encoding":{"x2":{"field":"x2"},"y2":{"field":"y2"}}},
{"data":{"values":[{"x":-0.6896,"y":1.155,"x2":-0.6896,"y2":-0.15},{"x":-0.6896,"y":1.155,"x2":0.7576,"y2":1.155}]},"mark":{"type":"rule","color":"#444","strokeWidth":1.5},"encoding":{"x2":{"field":"x2"},"y2":{"field":"y2"}}},
{"data":{"values":[{"t":"(a)","x":-0.4746,"y":1.071},{"t":"Kn","x":-0.205,"y":1.0816},{"t":"=0.1","x":-0.0961,"y":1.0816},{"t":"T","x":0.0635,"y":1.0816},{"t":"/T","x":0.1215,"y":1.0816},{"t":"=0.1","x":0.211,"y":1.0816}]},"mark":{"type":"text","font":"Liberation Serif","fontSize":26,"align":"left","baseline":"alphabetic","color":"#111"},"encoding":{"text":{"field":"t"}}},
{"data":{"values":[{"t":"0","x":-0.1227,"y":1.0683},{"t":"C","x":0.0973,"y":1.067},{"t":"H","x":0.1784,"y":1.067}]},"mark":{"type":"text","font":"Liberation Serif","fontSize":16,"align":"left","baseline":"alphabetic","color":"#111"},"encoding":{"text":{"field":"t"}}}
]},
{"layer":[
{"data":{"values":[{}]},"mark":{"type":"rect","fill":"white","stroke":"#999","strokeWidth":1.2},"encoding":{"x":{"datum":0,"type":"quantitative","scale":{"domain":[-6.188,0.3623],"nice":false,"zero":false},"axis":null},"x2":{"datum":1},"y":{"datum":0.0853,"type":"quantitative","scale":{"domain":[-0.4022,0.8884],"nice":false,"zero":false},"axis":null},"y2":{"datum":0.7563}}},
{"data":{"name":"la"},"mark":{"type":"rect"},"encoding":{"x":{"datum":0.087,"type":"quantitative","axis":null},"x2":{"datum":0.387},"y":{"field":"lo","type":"quantitative","axis":null},"y2":{"field":"hi"},"color":{"field":"band","type":"nominal","legend":null}}},
{"data":{"name":"la"},"transform":[{"filter":"datum.band != 'b0'"}],"mark":{"type":"text","font":"Liberation Sans","fontSize":13,"align":"left","baseline":"middle","dy":1.7,"color":"#444"},"encoding":{"x":{"datum":0.522,"type":"quantitative","axis":null},"y":{"field":"lo","type":"quantitative","axis":null},"text":{"field":"lo","type":"quantitative","format":".2~f"}}},
{"data":{"values":[{"t":"τ"}]},"mark":{"type":"text","font":"Liberation Serif","fontSize":30,"align":"center","baseline":"middle","color":"#111"},"encoding":{"x":{"datum":0.681,"type":"quantitative","axis":null},"y":{"datum":0.7156,"type":"quantitative","axis":null},"text":{"field":"t"}}}
]}
]},
{"width":452,"height":413,"resolve":{"scale":{"x":"independent","y":"independent"}},"layer":[
{"encoding":{"x":{"field":"x","type":"quantitative","scale":{"domain":[-0.5,0.593],"nice":false,"zero":false},"axis":{"values":[-0.5,-0.25,0,0.25,0.5],"title":"x","labelPadding":3,"titlePadding":-2}},"y":{"field":"y","type":"quantitative","scale":{"domain":[0,1],"nice":false,"zero":false},"axis":{"values":[0,0.2,0.4,0.6,0.8,1],"title":"y","labelPadding":7,"titlePadding":-1}}},"layer":[
{"data":{"name":"cb"},"transform":[{"fold":["b0","b1","b2","b3","b4","b5","b6","b7","b8","b9","b10","b11","b12","b13"],"as":["k","y"]}],"mark":{"type":"area","interpolate":"monotone"},"encoding":{"y2":{"datum":0},"color":{"field":"k","type":"nominal","scale":{"domain":["b0","b1","b2","b3","b4","b5","b6","b7","b8","b9","b10","b11","b12","b13"],"range":["#0000ff","#004eff","#009dff","#00ebff","#00ffc4","#00ff76","#00ff27","#27ff00","#76ff00","#c4ff00","#ffeb00","#ff9d00","#ff4e00","#ff0000"]},"legend":null}}},
{"data":{"values":[{"x":-0.5,"y":1,"x2":0.5,"y2":1},{"x":0.5,"y":1,"x2":0.5,"y2":0}]},"mark":{"type":"rule","color":"#999","strokeWidth":1},"encoding":{"x2":{"field":"x2"},"y2":{"field":"y2"}}},
{"data":{"name":"sb"},"mark":{"type":"line","interpolate":"catmull-rom","color":"#000","order":null},"encoding":{"strokeWidth":{"field":"s","type":"nominal","scale":{"type":"ordinal","domain":["b1","B1","b2","B2","b3","B3","b4","B4","b5","B5","b6","B6","b7","B7","b8","B8","b9","B9"],"range":[3.2,3.2,2.2,2.2,2.4,2.4,2.3,2.3,2.3,2.3,1.8,1.8,1.8,1.8,5,5,1.2,1.2]},"legend":null}}},
{"data":{"name":"rb"},"mark":{"type":"point","shape":"M0,-1L0.5,0.8L0,0.4L-0.5,0.8Z","filled":true,"color":"#000","opacity":1,"size":240},"encoding":{"angle":{"field":"a","type":"quantitative","scale":null}}},
{"data":{"name":"ticks"},"mark":{"type":"rule","color":"#222","strokeWidth":1},"encoding":{"x2":{"field":"x2"},"y2":{"field":"y2"}}},
{"data":{"values":[{"x":-0.6896,"y":1.148,"x2":-0.6896,"y2":-0.15}]},"mark":{"type":"rule","color":"#444","strokeWidth":1.5},"encoding":{"x2":{"field":"x2"},"y2":{"field":"y2"}}},
{"data":{"values":[{"t":"(b)","x":-0.4729,"y":1.0664},{"t":"Kn","x":-0.203,"y":1.0785},{"t":"=1","x":-0.0961,"y":1.0785},{"t":"T","x":0.0732,"y":1.0785},{"t":"/T","x":0.1251,"y":1.0785},{"t":"=0.1","x":0.2154,"y":1.0785}]},"mark":{"type":"text","font":"Liberation Serif","fontSize":26,"align":"left","baseline":"alphabetic","color":"#111"},"encoding":{"text":{"field":"t"}}},
{"data":{"values":[{"t":"0","x":-0.1194,"y":1.0678},{"t":"C","x":0.0973,"y":1.066},{"t":"H","x":0.1784,"y":1.066}]},"mark":{"type":"text","font":"Liberation Serif","fontSize":16,"align":"left","baseline":"alphabetic","color":"#111"},"encoding":{"text":{"field":"t"}}}
]},
{"layer":[
{"data":{"values":[{}]},"mark":{"type":"rect","fill":"white","stroke":"#999","strokeWidth":1.2},"encoding":{"x":{"datum":0,"type":"quantitative","scale":{"domain":[-6.188,0.3623],"nice":false,"zero":false},"axis":null},"x2":{"datum":1},"y":{"datum":0.1154,"type":"quantitative","scale":{"domain":[-0.0386,0.4744],"nice":false,"zero":false},"axis":null},"y2":{"datum":0.4214}}},
{"data":{"name":"lb"},"mark":{"type":"rect"},"encoding":{"x":{"datum":0.087,"type":"quantitative","axis":null},"x2":{"datum":0.387},"y":{"field":"lo","type":"quantitative","axis":null},"y2":{"field":"hi"},"color":{"field":"band","type":"nominal","legend":null}}},
{"data":{"name":"lb"},"transform":[{"filter":"datum.band != 'b0'"}],"mark":{"type":"text","font":"Liberation Sans","fontSize":13,"align":"left","baseline":"middle","dy":1.7,"color":"#444"},"encoding":{"x":{"datum":0.522,"type":"quantitative","axis":null},"y":{"field":"lo","type":"quantitative","axis":null},"text":{"field":"lo","type":"quantitative","format":".2~f"}}},
{"data":{"values":[{"t":"τ"}]},"mark":{"type":"text","font":"Liberation Serif","fontSize":30,"align":"center","baseline":"middle","color":"#111"},"encoding":{"x":{"datum":0.681,"type":"quantitative","axis":null},"y":{"datum":0.4061,"type":"quantitative","axis":null},"text":{"field":"t"}}}
]}
]},
{"width":452,"height":413,"resolve":{"scale":{"x":"independent","y":"independent"}},"layer":[
{"encoding":{"x":{"field":"x","type":"quantitative","scale":{"domain":[-0.5,0.593],"nice":false,"zero":false},"axis":{"values":[-0.5,-0.25,0,0.25,0.5],"title":"x","labelPadding":3,"titlePadding":-2}},"y":{"field":"y","type":"quantitative","scale":{"domain":[0,1],"nice":false,"zero":false},"axis":{"values":[0,0.2,0.4,0.6,0.8,1],"title":"y","labelPadding":7,"titlePadding":-1}}},"layer":[
{"data":{"name":"cc"},"transform":[{"fold":["b1","b2","b3","b4","b5","b6","b7","b8","b9","b10","b11"],"as":["k","y"]}],"mark":{"type":"area","interpolate":"monotone"},"encoding":{"y2":{"datum":0},"color":{"field":"k","type":"nominal","scale":{"domain":["b0","b1","b2","b3","b4","b5","b6","b7","b8","b9","b10","b11"],"range":["#0000ff","#005dff","#00b9ff","#00ffe8","#00ff8b","#00ff2e","#2eff00","#8bff00","#e8ff00","#ffb900","#ff5d00","#ff0000"]},"legend":null}}},
{"data":{"values":[{"x":-0.5,"y":1,"x2":0.5,"y2":1},{"x":0.5,"y":1,"x2":0.5,"y2":0}]},"mark":{"type":"rule","color":"#999","strokeWidth":1},"encoding":{"x2":{"field":"x2"},"y2":{"field":"y2"}}},
{"data":{"name":"sc"},"mark":{"type":"line","interpolate":"catmull-rom","color":"#000","order":null},"encoding":{"strokeWidth":{"field":"s","type":"nominal","scale":{"type":"ordinal","domain":["c1","C1","c2","C2","c3","C3","c4","C4","c5","C5","c6","C6","c7","C7","c8","C8","c9","C9","c10","C10"],"range":[2.8,2.8,2.8,2.8,2.8,2.8,2.8,2.8,3,3,3.5,3.5,2.5,2.5,2.5,2.5,1,1,1.5,1.5]},"legend":null}}},
{"data":{"name":"rc"},"mark":{"type":"point","shape":"M0,-1L0.5,0.8L0,0.4L-0.5,0.8Z","filled":true,"color":"#000","opacity":1,"size":240},"encoding":{"angle":{"field":"a","type":"quantitative","scale":null}}},
{"data":{"name":"ticks"},"mark":{"type":"rule","color":"#222","strokeWidth":1},"encoding":{"x2":{"field":"x2"},"y2":{"field":"y2"}}},
{"data":{"values":[{"x":-0.6896,"y":1.147,"x2":-0.6896,"y2":-0.1276}]},"mark":{"type":"rule","color":"#444","strokeWidth":1.5},"encoding":{"x2":{"field":"x2"},"y2":{"field":"y2"}}},
{"data":{"values":[{"t":"(c)","x":-0.4794,"y":1.0663},{"t":"Kn","x":-0.2105,"y":1.0785},{"t":"=10","x":-0.1034,"y":1.0785},{"t":"T","x":0.0601,"y":1.0785},{"t":"/T","x":0.1179,"y":1.0785},{"t":"=0.1","x":0.2086,"y":1.0785}]},"mark":{"type":"text","font":"Liberation Serif","fontSize":26,"align":"left","baseline":"alphabetic","color":"#111"},"encoding":{"text":{"field":"t"}}},
{"data":{"values":[{"t":"0","x":-0.1288,"y":1.066},{"t":"C","x":0.0918,"y":1.066},{"t":"H","x":0.1718,"y":1.066}]},"mark":{"type":"text","font":"Liberation Serif","fontSize":16,"align":"left","baseline":"alphabetic","color":"#111"},"encoding":{"text":{"field":"t"}}}
]},
{"layer":[
{"data":{"values":[{}]},"mark":{"type":"rect","fill":"white","stroke":"#999","strokeWidth":1.2},"encoding":{"x":{"datum":0,"type":"quantitative","scale":{"domain":[-6.188,0.3623],"nice":false,"zero":false},"axis":null},"x2":{"datum":1},"y":{"datum":0.0952,"type":"quantitative","scale":{"domain":[-0.0979,0.4142],"nice":false,"zero":false},"axis":null},"y2":{"datum":0.3609}}},
{"data":{"name":"lc"},"mark":{"type":"rect"},"encoding":{"x":{"datum":0.087,"type":"quantitative","axis":null},"x2":{"datum":0.387},"y":{"field":"lo","type":"quantitative","axis":null},"y2":{"field":"hi"},"color":{"field":"band","type":"nominal","legend":null}}},
{"data":{"name":"lc"},"transform":[{"filter":"datum.band != 'b0'"}],"mark":{"type":"text","font":"Liberation Sans","fontSize":13,"align":"left","baseline":"middle","dy":1.7,"color":"#444"},"encoding":{"x":{"datum":0.522,"type":"quantitative","axis":null},"y":{"field":"lo","type":"quantitative","axis":null},"text":{"field":"lo","type":"quantitative","format":".2~f"}}},
{"data":{"values":[{"t":"τ"}]},"mark":{"type":"text","font":"Liberation Serif","fontSize":30,"align":"center","baseline":"middle","color":"#111"},"encoding":{"x":{"datum":0.681,"type":"quantitative","axis":null},"y":{"datum":0.3452,"type":"quantitative","axis":null},"text":{"field":"t"}}}
]}
]}
]}
